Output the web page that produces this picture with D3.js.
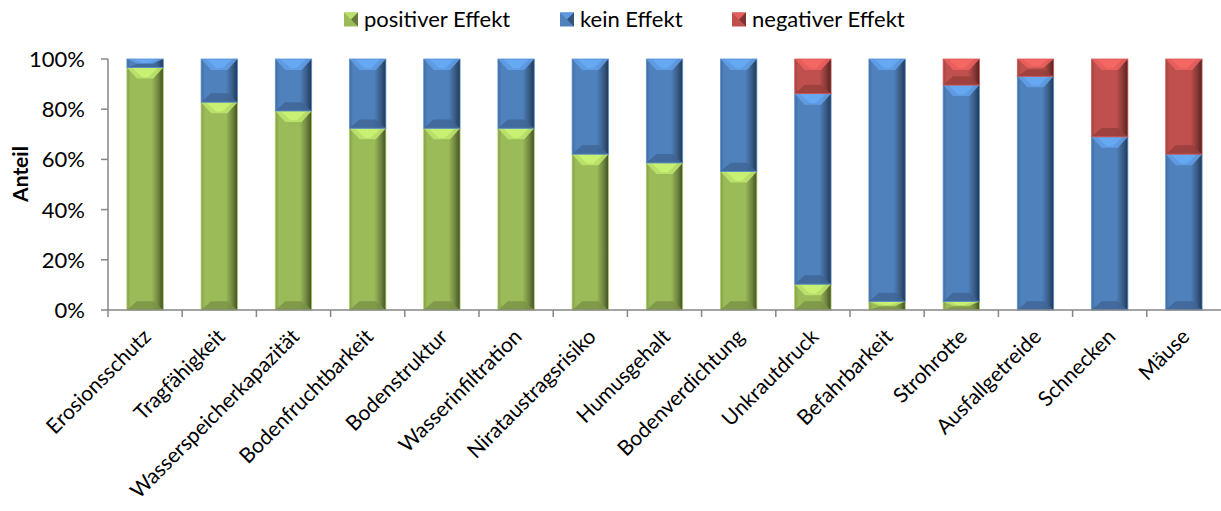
<!DOCTYPE html>
<html><head><meta charset="utf-8">
<script src="https://cdn.jsdelivr.net/npm/d3@7"></script>
<style>body{margin:0;background:#fff}svg{display:block}</style>
</head><body>
<svg id="c" width="1221" height="511"></svg>
<script>
const categories = ["Erosionsschutz","Tragfähigkeit","Wasserspeicherkapazität","Bodenfruchtbarkeit","Bodenstruktur","Wasserinfiltration","Nirataustragsrisiko","Humusgehalt","Bodenverdichtung","Unkrautdruck","Befahrbarkeit","Strohrotte","Ausfallgetreide","Schnecken","Mäuse"];
const seriesNames = ["positiver Effekt","kein Effekt","negativer Effekt"];
const positiv = [96.6,82.8,79.3,72.4,72.4,72.4,62.1,58.6,55.2,10.3,3.4,3.4,0,0,0];
const kein    = [3.4,17.2,20.7,27.6,27.6,27.6,37.9,41.4,44.8,75.9,96.6,86.2,93.1,69.0,62.1];
const negativ = [0,0,0,0,0,0,0,0,0,13.8,0,10.4,6.9,31.0,37.9];
const yTicks = [0,20,40,60,80,100];

const baseColors = ["#9BBB59","#4F81BD","#C0504D"];
const svg = d3.select("#c");
const m = {left:108};
const W = 1221;
const x = d3.scaleBand().domain(categories).range([m.left, W]).paddingInner(0.51).paddingOuter(0.255);
const y = d3.scaleLinear().domain([0,100]).range([310,59]);

const defs = svg.append("defs");
baseColors.forEach((c,i)=>{
  const col = d3.color(c);
  const g = defs.append("linearGradient").attr("id","g"+i).attr("x1","0").attr("x2","1").attr("y1","0").attr("y2","0");
  g.append("stop").attr("offset","0").attr("stop-color",col.darker(0.5));
  g.append("stop").attr("offset","0.1").attr("stop-color",col);
  g.append("stop").attr("offset","0.68").attr("stop-color",col);
  g.append("stop").attr("offset","0.87").attr("stop-color",col.darker(1.0));
  g.append("stop").attr("offset","1").attr("stop-color",col.darker(2.4));
});

const stackData = categories.map((c,i)=>({cat:c, v:[positiv[i],kein[i],negativ[i]]}));
const segs = [];
stackData.forEach(d=>{
  let acc=0;
  d.v.forEach((v,si)=>{ if(v>0){segs.push({cat:d.cat,s:si,y0:acc,y1:acc+v});} acc+=v; });
});

const gBars = svg.append("g");
segs.forEach(s=>{
  const x0 = x(s.cat), bw = x.bandwidth();
  const yt = y(s.y1), yb = y(s.y0), h = yb-yt;
  const col = d3.color(baseColors[s.s]);
  const g = gBars.append("g");
  g.append("rect").attr("x",x0).attr("y",yt).attr("width",bw).attr("height",h).attr("fill",`url(#g${s.s})`);
  const b = Math.min(11, h/2), bs = Math.min(4,h/2);
  g.append("path").attr("d",`M${x0},${yt}L${x0+bw},${yt}L${x0+bw-bs-6},${yt+b}L${x0+bs+6},${yt+b}Z`)
    .attr("fill",col.brighter(0.55)).attr("opacity",0.9);
  g.append("path").attr("d",`M${x0+5},${yt}L${x0+bw-5},${yt}L${x0+bw/2+3},${yt+b*0.85}L${x0+bw/2-3},${yt+b*0.85}Z`)
    .attr("fill",col.brighter(0.9)).attr("opacity",0.55);
  g.append("path").attr("d",`M${x0},${yb}L${x0+bw},${yb}L${x0+bw-bs-6},${yb-b*0.8}L${x0+bs+6},${yb-b*0.8}Z`)
    .attr("fill",col.darker(0.7)).attr("opacity",0.8);
  g.append("rect").attr("x",x0).attr("y",yt).attr("width",bw).attr("height",h)
    .attr("fill","none").attr("stroke",col.brighter(0.3)).attr("stroke-width",0.8);
});

const axisColor = "#868686";
svg.append("line").attr("x1",m.left).attr("x2",m.left).attr("y1",y(100)).attr("y2",y(0)).attr("stroke",axisColor).attr("stroke-width",1.5);
svg.append("line").attr("x1",m.left).attr("x2",W).attr("y1",y(0)).attr("y2",y(0)).attr("stroke",axisColor).attr("stroke-width",1.5);
yTicks.forEach(t=>{
  svg.append("line").attr("x1",m.left-7).attr("x2",m.left).attr("y1",y(t)).attr("y2",y(t)).attr("stroke",axisColor).attr("stroke-width",1.5);
  svg.append("text").attr("x",85).attr("y",y(t)).attr("dy","0.36em").attr("text-anchor","end")
    .attr("font-family","Lato").attr("font-size",22).attr("fill","#000").text(t+"%");
});
const step = x.step();
categories.forEach((c,i)=>{
  const xb = m.left + i*step;
  svg.append("line").attr("x1",xb).attr("x2",xb).attr("y1",y(0)).attr("y2",y(0)+7).attr("stroke",axisColor).attr("stroke-width",1.5);
});
categories.forEach(c=>{
  const cx = x(c)+x.bandwidth()/2;
  svg.append("text").attr("transform",`translate(${cx+7},${338}) rotate(-45)`).attr("text-anchor","end")
    .attr("font-family","Lato").attr("font-size",21).attr("fill","#000").text(c);
});
svg.append("text").attr("transform",`translate(28,174) rotate(-90)`).attr("text-anchor","middle")
  .attr("font-family","Lato").attr("font-weight","bold").attr("font-size",21).text("Anteil");

const legX = [344,560,732];
seriesNames.forEach((n,i)=>{
  const col = d3.color(baseColors[i]);
  const lx = legX[i], ly = 12.5, s = 14;
  svg.append("rect").attr("x",lx).attr("y",ly).attr("width",s).attr("height",s).attr("fill",col);
  svg.append("path").attr("d",`M${lx},${ly}L${lx+s},${ly}L${lx+s/2},${ly+s/2}Z`).attr("fill",col.brighter(0.5));
  svg.append("path").attr("d",`M${lx+s},${ly}L${lx+s},${ly+s}L${lx+s/2},${ly+s/2}Z`).attr("fill",col.darker(1.2));
  svg.append("text").attr("x",lx+s+6).attr("y",ly+s/2).attr("dy","0.36em")
    .attr("font-family","Lato").attr("font-size",22).attr("fill","#000").text(n);
});
</script>
</body></html>
